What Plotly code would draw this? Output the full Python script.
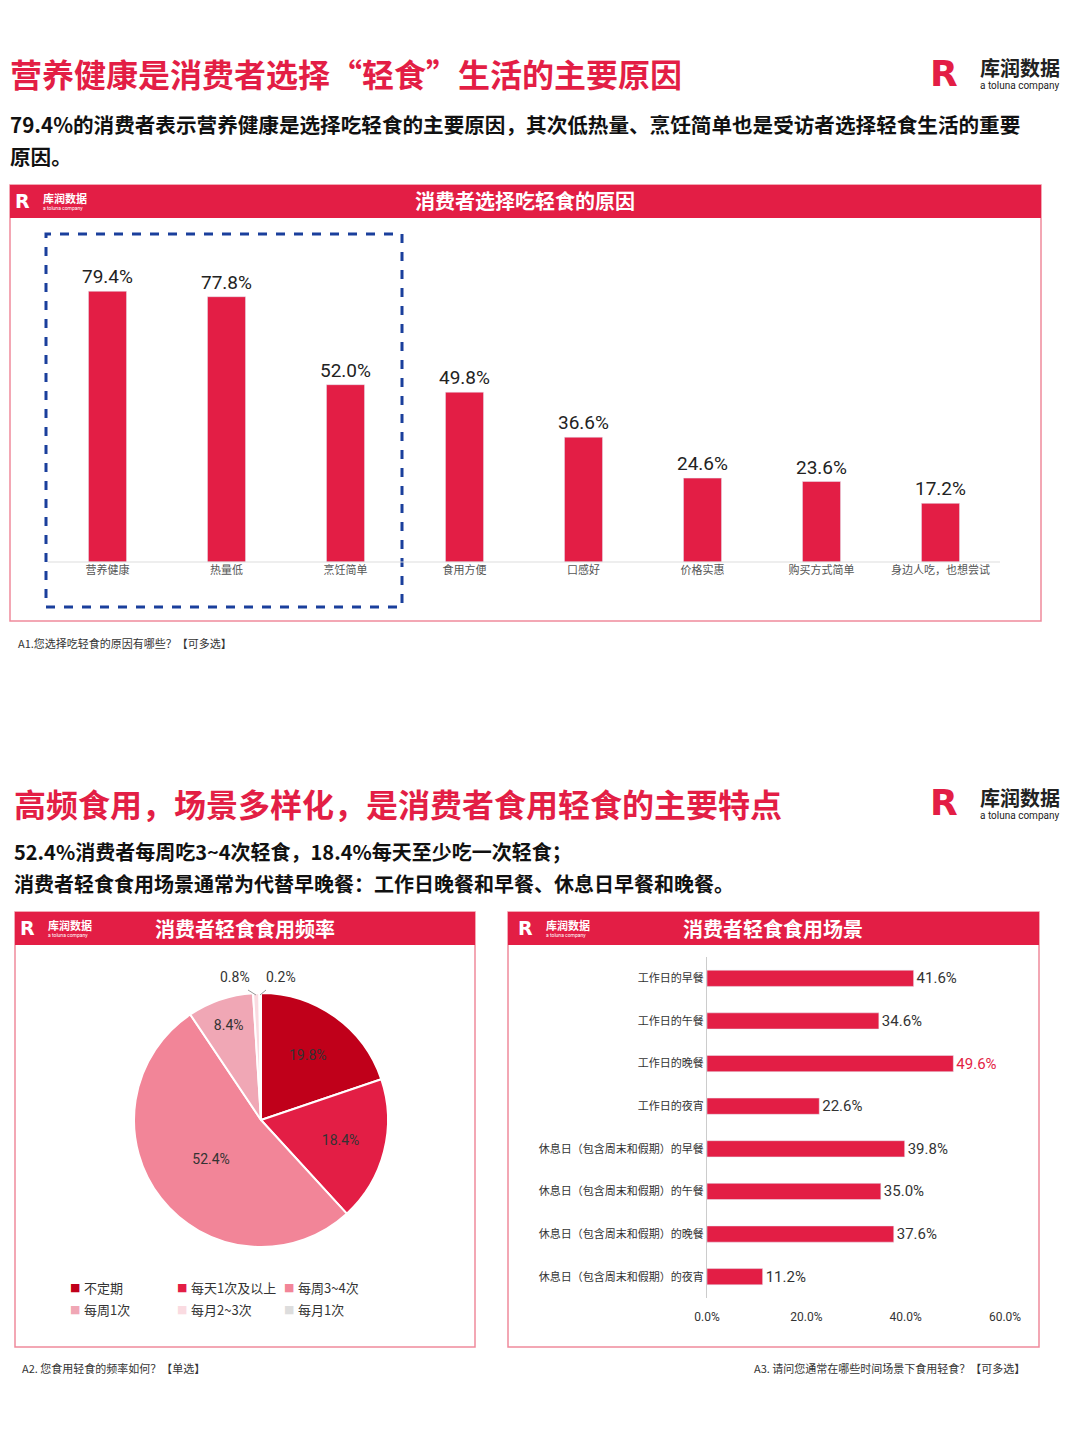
import plotly.graph_objects as go

W, H = 1080, 1439
RED = "#e31e45"
FONT = "Noto Sans CJK SC"

reasons = ["营养健康", "热量低", "烹饪简单", "食用方便", "口感好", "价格实惠", "购买方式简单", "身边人吃，也想尝试"]
reason_pct = [79.4, 77.8, 52.0, 49.8, 36.6, 24.6, 23.6, 17.2]

freq_labels = ["不定期", "每天1次及以上", "每周3~4次", "每周1次", "每月2~3次", "每月1次"]
freq_pct = [19.8, 18.4, 52.4, 8.4, 0.8, 0.2]
freq_colors = ["#c0001a", "#e31e45", "#f28598", "#f0a7b5", "#fadbe1", "#dddddd"]

scenes = ["工作日的早餐", "工作日的午餐", "工作日的晚餐", "工作日的夜宵",
          "休息日（包含周末和假期）的早餐", "休息日（包含周末和假期）的午餐",
          "休息日（包含周末和假期）的晚餐", "休息日（包含周末和假期）的夜宵"]
scene_pct = [41.6, 34.6, 49.6, 22.6, 39.8, 35.0, 37.6, 11.2]


def px(x):
    return x / W


def py(y):
    return 1 - y / H


fig = go.Figure()

fig.add_trace(go.Bar(
    x=reasons, y=reason_pct, marker_color=RED, width=0.32,
    text=[f"{v:.1f}%" for v in reason_pct], textposition="outside", constraintext="none",
    textfont=dict(size=19, color="#222", family="Roboto"), cliponaxis=False,
    xaxis="x", yaxis="y", showlegend=False,
))

fig.add_trace(go.Pie(
    labels=freq_labels, values=freq_pct, sort=False, direction="clockwise",
    rotation=0, marker=dict(colors=freq_colors, line=dict(color="white", width=2)),
    texttemplate=["%{value:.1f}%"] * 4 + [""] * 2, textposition="inside",
    textfont=dict(size=14, color="#333", family="Roboto"), insidetextorientation="horizontal",
    domain=dict(x=[px(134), px(388)], y=[py(1247), py(993)]),
    showlegend=False,
))

fig.add_trace(go.Bar(
    y=scenes, x=scene_pct, orientation="h", marker_color=RED, width=0.38,
    text=[f"{v:.1f}%" for v in scene_pct], textposition="outside", constraintext="none",
    textfont=dict(size=15, family="Roboto",
                  color=["#333", "#333", RED, "#333", "#333", "#333", "#333", "#333"]),
    cliponaxis=False, xaxis="x2", yaxis="y2", showlegend=False,
))


def rect(x0, y0, x1, y1, **kw):
    return dict(type="rect", xref="paper", yref="paper",
                x0=px(x0), x1=px(x1), y0=py(y1), y1=py(y0), **kw)


BORDER = dict(color="#f08a9c", width=1.5)
shapes = [
    rect(10, 185, 1041, 621, line=BORDER),
    rect(10, 185, 1041, 218, fillcolor=RED, line_width=0),
    rect(46, 234, 402, 607, line=dict(color="#1a3f9c", width=3, dash="dash")),
    dict(type="line", xref="paper", yref="paper", x0=px(48), x1=px(1000), y0=py(562), y1=py(562),
         line=dict(color="#ddd", width=1)),
    rect(15, 912, 475, 1347, line=BORDER),
    rect(15, 912, 475, 945, fillcolor=RED, line_width=0),
    rect(508, 912, 1039, 1347, line=BORDER),
    rect(508, 912, 1039, 945, fillcolor=RED, line_width=0),
    dict(type="line", xref="paper", yref="paper", x0=px(256), x1=px(248), y0=py(995), y1=py(990),
         line=dict(color="#999", width=1)),
    dict(type="line", xref="paper", yref="paper", x0=px(260), x1=px(266), y0=py(995), y1=py(990),
         line=dict(color="#999", width=1)),
]


def txt(x, y, s, size, color="#222", anchor="left", bold=False, family=FONT):
    return dict(x=px(x), y=py(y), xref="paper", yref="paper", text=f"<b>{s}</b>" if bold else s,
                showarrow=False, xanchor=anchor, yanchor="middle",
                font=dict(size=size, color=color, family=family))


ann = [
    txt(8, 73, "营养健康是消费者选择“轻食”生活的主要原因", 32, RED, bold=True),
    txt(8, 124, "79.4%的消费者表示营养健康是选择吃轻食的主要原因，其次低热量、烹饪简单也是受访者选择轻食生活的重要", 20.6, "#111", bold=True),
    txt(8, 156, "原因。", 20.6, "#111", bold=True),
    txt(525, 201, "消费者选择吃轻食的原因", 20, "white", "center", True),
    txt(16, 643, "A1.您选择吃轻食的原因有哪些？【可多选】", 11, "#333"),
    txt(12, 803, "高频食用，场景多样化，是消费者食用轻食的主要特点", 32, RED, bold=True),
    txt(12, 851, "52.4%消费者每周吃3~4次轻食，18.4%每天至少吃一次轻食；", 20, "#111", bold=True),
    txt(12, 883, "消费者轻食食用场景通常为代替早晚餐：工作日晚餐和早餐、休息日早餐和晚餐。", 20, "#111", bold=True),
    txt(245, 928, "消费者轻食食用频率", 20, "white", "center", True),
    txt(773, 928, "消费者轻食食用场景", 20, "white", "center", True),
    txt(20, 1368, "A2. 您食用轻食的频率如何？【单选】", 11, "#333"),
    txt(1027, 1368, "A3. 请问您通常在哪些时间场景下食用轻食？【可多选】", 11, "#333", "right"),
    txt(235, 977, f"{freq_pct[4]:.1f}%", 14, "#333", "center", family="Roboto"),
    txt(281, 977, f"{freq_pct[5]:.1f}%", 14, "#333", "center", family="Roboto"),
]

# pie legend, two rows of three
leg_pos = [(68, 1287), (175, 1287), (282, 1287), (68, 1309), (175, 1309), (282, 1309)]
for (lx, ly), lab, col in zip(leg_pos, freq_labels, freq_colors):
    ann.append(txt(lx, ly, "■", 11, col, family="DejaVu Sans"))
    ann.append(txt(lx + 14, ly, lab, 13, "#333"))

# logos
for lx, ly, s in [(928, 73, 1.0), (928, 802, 1.0), (13, 201, 0.55), (18, 928, 0.55), (516, 928, 0.55)]:
    col = "white" if s < 1 else RED
    tcol = "white" if s < 1 else "#222"
    ann.append(txt(lx, ly, "<b>R</b>", int(36 * s), col, family="DejaVu Sans"))
    ann.append(txt(lx + 50 * s, ly - 5 * s, "库润数据", int(20 * s), tcol, bold=True))
    ann.append(txt(lx + 50 * s, ly + 13 * s, "a toluna company", max(int(10 * s), 5), tcol, family="Roboto"))

fig.update_layout(
    width=W, height=H, margin=dict(l=0, r=0, t=0, b=0, autoexpand=False),
    paper_bgcolor="white", plot_bgcolor="white",
    font=dict(family=FONT, color="#333"),
    shapes=shapes, annotations=ann, showlegend=False,
    xaxis=dict(domain=[px(48), px(1000)], anchor="y", tickfont=dict(size=11, color="#555"),
               showline=False, ticks="", automargin=False),
    yaxis=dict(domain=[py(562), py(221)], range=[0, 100], visible=False),
    xaxis2=dict(domain=[px(707), px(1005)], anchor="y2", range=[0, 60], tickvals=[0, 20, 40, 60],
                ticktext=["0.0%", "20.0%", "40.0%", "60.0%"], showgrid=False, zeroline=False,
                tickfont=dict(size=12, color="#333", family="Roboto"), automargin=False, ticklen=8,
                ticks="outside", tickcolor="white"),
    yaxis2=dict(domain=[py(1298), py(957)], anchor="x2", autorange="reversed", automargin=False,
                tickfont=dict(size=11, color="#333"), showline=True, linecolor="#ccc", ticks=""),
)

fig.write_html("out.html", config={"displayModeBar": False},
               post_script="document.body.style.margin='0';")
